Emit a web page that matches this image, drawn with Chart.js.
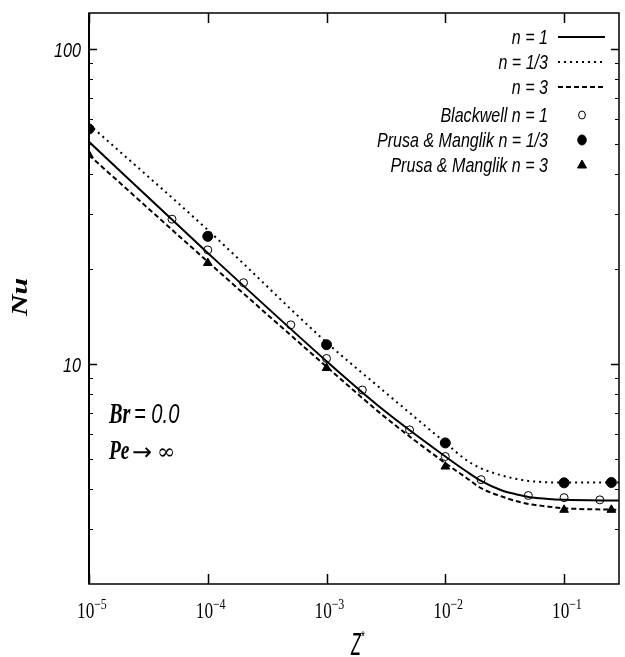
<!DOCTYPE html>
<html>
<head>
<meta charset="utf-8">
<script src="https://cdn.jsdelivr.net/npm/chart.js@4.4.0/dist/chart.umd.min.js"></script>
<style>
  html,body{margin:0;padding:0;background:#fff;}
  #c{display:block;}
</style>
</head>
<body>
<canvas id="c" width="625" height="657"></canvas>
<script>
// curve abscissae (Z*) and Nu values
const curveZ   = [1e-5, 1e-4, 1e-3, 3e-3, 1e-2, 1.5e-2, 2e-2, 3e-2, 4e-2, 5e-2, 7e-2, 0.1, 0.29];
const nuN1     = [50.7, 22.5, 10.2, 7.15, 5.08, 4.56, 4.25, 3.96, 3.85, 3.78, 3.73, 3.70, 3.68];
const nuN13    = [57.6, 26.6, 11.7, 8.22, 5.62, 4.95, 4.66, 4.42, 4.31, 4.25, 4.21, 4.20, 4.20];
const nuN3     = [46.0, 21.1, 9.8, 6.85, 4.84, 4.35, 4.03, 3.79, 3.66, 3.59, 3.53, 3.48, 3.44];

// Blackwell n = 1 (open circles)
const blackZ   = [5e-5, 1e-4, 2e-4, 5e-4, 1e-3, 2e-3, 5e-3, 1e-2, 2e-2, 5e-2, 0.1, 0.2];
const blackNu  = [28.8, 23.0, 18.1, 13.3, 10.4, 8.26, 6.17, 5.08, 4.29, 3.82, 3.76, 3.70];
// Prusa & Manglik n = 1/3 (filled circles)
const pm13Z    = [1e-5, 1e-4, 1e-3, 1e-2, 0.1, 0.25];
const pm13Nu   = [55.7, 25.4, 11.5, 5.61, 4.19, 4.20];
// Prusa & Manglik n = 3 (triangles)
const pm3Z     = [1e-5, 1e-4, 1e-3, 1e-2, 0.1, 0.25];
const pm3Nu    = [46.0, 20.9, 9.7, 4.72, 3.44, 3.44];

// axis ticks
const xMajor   = [1e-5, 1e-4, 1e-3, 1e-2, 1e-1];
const xExps    = ['\u22125', '\u22124', '\u22123', '\u22122', '\u22121'];
const yMajor   = [10, 100];
const yLabels  = ['10', '100'];
const yMinor   = [3, 4, 5, 6, 7, 8, 9, 20, 30, 40, 50, 60, 70, 80, 90];

const pts = (xs, ys) => xs.map((x, i) => ({x: x, y: ys[i]}));

function txt(ctx, s, x, y, font, sx, align){
  ctx.save();
  ctx.font = font;
  ctx.textAlign = align || 'left';
  ctx.textBaseline = 'alphabetic';
  ctx.translate(x, y);
  ctx.scale(sx, 1);
  ctx.fillText(s, 0, 0);
  ctx.restore();
}

function marker(ctx, style, x, y, r, filled){
  ctx.save();
  ctx.beginPath();
  if(style === 'triangle'){
    ctx.moveTo(x, y - r);
    ctx.lineTo(x + r*0.9, y + r*0.6);
    ctx.lineTo(x - r*0.9, y + r*0.6);
    ctx.closePath();
  } else {
    ctx.ellipse(x, y, r*0.85, r, 0, 0, Math.PI*2);
  }
  ctx.lineWidth = 1;
  ctx.strokeStyle = '#000';
  if(filled){ ctx.fillStyle = '#000'; ctx.fill(); }
  ctx.stroke();
  ctx.restore();
}

const decorPlugin = {
  id: 'decor',
  afterDatasetsDraw(chart){
    const ctx = chart.ctx;
    const a = chart.chartArea;
    const xs = chart.scales.x, ys = chart.scales.y;
    ctx.save();
    ctx.fillStyle = '#000';
    ctx.strokeStyle = '#000';

    // frame
    ctx.lineWidth = 1.5;
    ctx.strokeRect(a.left, a.top, a.right - a.left, a.bottom - a.top);
    ctx.lineWidth = 2;
    ctx.beginPath(); ctx.moveTo(a.left, a.top); ctx.lineTo(a.left, a.bottom); ctx.stroke();

    // inward ticks
    ctx.lineWidth = 1.5;
    ctx.beginPath();
    xMajor.forEach(v => {
      const px = Math.round(xs.getPixelForValue(v)) + 0.5;
      ctx.moveTo(px, a.bottom); ctx.lineTo(px, a.bottom - 10);
      ctx.moveTo(px, a.top);    ctx.lineTo(px, a.top + 10);
    });
    yMajor.forEach(v => {
      const py = Math.round(ys.getPixelForValue(v)) + 0.5;
      ctx.moveTo(a.left, py);  ctx.lineTo(a.left + 8, py);
      ctx.moveTo(a.right, py); ctx.lineTo(a.right - 8, py);
    });
    ctx.stroke();
    ctx.lineWidth = 1;
    ctx.beginPath();
    yMinor.forEach(v => {
      const py = Math.round(ys.getPixelForValue(v)) + 0.5;
      ctx.moveTo(a.left, py);  ctx.lineTo(a.left + 4, py);
      ctx.moveTo(a.right, py); ctx.lineTo(a.right - 4, py);
    });
    ctx.stroke();

    // x tick labels 10^n
    xMajor.forEach((v, i) => {
      const px = xs.getPixelForValue(v);
      txt(ctx, '10', px - 12, 618, '24px "Liberation Serif"', 0.72, 'left');
      txt(ctx, xExps[i], px + 5, 609, '15px "Liberation Serif"', 0.8, 'left');
    });
    // y tick labels
    yMajor.forEach((v, i) => {
      const py = ys.getPixelForValue(v);
      txt(ctx, yLabels[i], 81, py + 8, 'italic 21px "Liberation Sans"', 0.77, 'right');
    });

    // axis titles
    ctx.save();
    ctx.translate(27, 297);
    ctx.rotate(-Math.PI/2);
    txt(ctx, 'Nu', 0, 0, 'bold italic 23px "Liberation Serif"', 1.3, 'center');
    ctx.restore();
    txt(ctx, 'Z', 356, 655, 'italic 32px "Liberation Sans"', 0.5, 'center');
    txt(ctx, '*', 363, 641, '14px "Liberation Sans"', 0.8, 'center');

    // annotations
    txt(ctx, 'Br', 109, 423, 'bold italic 29px "Liberation Serif"', 0.7, 'left');
    txt(ctx, '= 0.0', 134, 423, 'italic 28px "Liberation Sans"', 0.72, 'left');
    txt(ctx, 'Pe', 109, 459, 'bold italic 27px "Liberation Serif"', 0.72, 'left');
    txt(ctx, '\u2192', 132, 460, '24px "DejaVu Sans"', 1.0, 'left');
    txt(ctx, '\u221e', 157, 459, '22px "DejaVu Serif"', 1.0, 'left');

    // legend
    const rowY = [37, 62, 87, 115, 140, 165];
    chart.data.datasets.forEach((ds, i) => {
      const y = rowY[i];
      txt(ctx, ds.label, 548, y + 7, 'italic 21px "Liberation Sans"', 0.765, 'right');
      if(ds.showLine !== false){
        ctx.save();
        ctx.lineWidth = ds.borderWidth;
        ctx.setLineDash(ds.borderDash || []);
        ctx.beginPath();
        ctx.moveTo(558, y); ctx.lineTo(605, y);
        ctx.stroke();
        ctx.restore();
      } else {
        marker(ctx, ds.pointStyle, 582, y, ds.pointRadius, ds.backgroundColor === '#000');
      }
    });
    ctx.restore();
  }
};

const lineDs = (label, ys, dash) => ({
  label: label,
  data: pts(curveZ, ys),
  borderColor: '#000',
  borderWidth: 2,
  borderDash: dash,
  pointRadius: 0,
  cubicInterpolationMode: 'monotone',
  fill: false
});
const markDs = (label, xs, ys, style, r, filled) => ({
  label: label,
  data: pts(xs, ys),
  showLine: false,
  pointStyle: style,
  pointRadius: r,
  pointBorderWidth: 1,
  borderColor: '#000',
  backgroundColor: filled ? '#000' : 'rgba(0,0,0,0)'
});

new Chart(document.getElementById('c').getContext('2d'), {
  type: 'line',
  data: {
    datasets: [
      lineDs('n = 1', nuN1, []),
      lineDs('n = 1/3', nuN13, [2, 4]),
      lineDs('n = 3', nuN3, [5, 3]),
      markDs('Blackwell n = 1', blackZ, blackNu, 'circle', 4, false),
      markDs('Prusa & Manglik n = 1/3', pm13Z, pm13Nu, 'circle', 5, true),
      markDs('Prusa & Manglik n = 3', pm3Z, pm3Nu, 'triangle', 5, true)
    ]
  },
  options: {
    responsive: false,
    animation: false,
    layout: { padding: { top: 13, right: 2, left: 0, bottom: 0 } },
    plugins: { legend: { display: false }, tooltip: { enabled: false } },
    scales: {
      x: {
        type: 'logarithmic', min: 1e-5, max: 0.29,
        grid: { display: false }, border: { display: false },
        ticks: { display: false },
        afterFit: s => { s.height = 73; }
      },
      y: {
        type: 'logarithmic', min: 2, max: 130,
        grid: { display: false }, border: { display: false },
        ticks: { display: false },
        afterFit: s => { s.width = 89; }
      }
    }
  },
  plugins: [decorPlugin]
});
</script>
</body>
</html>
